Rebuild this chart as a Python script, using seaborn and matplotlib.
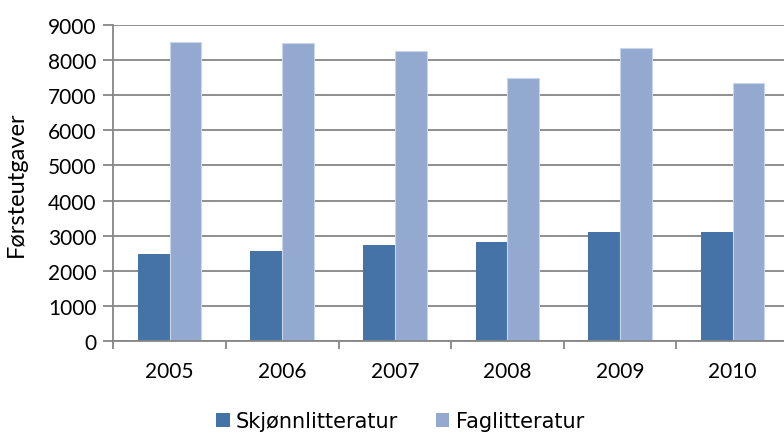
import pandas as pd
import numpy as np
import seaborn as sns
import matplotlib.pyplot as plt
from matplotlib.patches import Patch

years = ["2005", "2006", "2007", "2008", "2009", "2010"]
skjonn = [2480, 2565, 2745, 2810, 3095, 3105]
fag = [8495, 8480, 8240, 7495, 8350, 7355]
series = ["Skjønnlitteratur", "Faglitteratur"]

df = pd.DataFrame({
    "year": years * 2,
    "serie": [series[0]] * len(years) + [series[1]] * len(years),
    "value": skjonn + fag,
})

palette = {series[0]: '#4572A7', series[1]: '#94A9D0'}
grid_col = '#868686'

fig = plt.figure(figsize=(7.84, 4.35), dpi=100)
ax = fig.add_axes([113.3/784, (435-342.3)/435, 675.6/784, 316.6/435])

sns.barplot(data=df, x="year", y="value", hue="serie", order=years, hue_order=series,
            palette=palette, width=0.565, saturation=1, legend=False, ax=ax)

# light edge on the Faglitteratur bars
for p in ax.patches[len(years):]:
    p.set_edgecolor('#c9d5ea')
    p.set_linewidth(0.8)

ax.set_xlim(-0.5, 5.5)
ax.set_ylim(0, 9000)
ax.set_yticks(range(0, 9001, 1000))
ax.yaxis.grid(True, color=grid_col, linewidth=1.3)
ax.set_axisbelow(True)

ax.set_xticks(np.arange(-0.5, 6, 1), minor=True)
ax.tick_params(axis='x', which='major', length=0, pad=14)
ax.tick_params(axis='x', which='minor', length=6, width=1.3, color=grid_col)
ax.tick_params(axis='y', length=7, width=1.3, color=grid_col, pad=5)

for lab in ax.get_xticklabels() + ax.get_yticklabels():
    lab.set_fontfamily('Lato')
    lab.set_fontsize(15)

ax.set_xlabel(None)
ax.set_ylabel("Førsteutgaver", fontsize=17, family='Lato')
ax.yaxis.set_label_coords(-0.128, 0.5)

for s in ['top', 'right']:
    ax.spines[s].set_visible(False)
for s in ['left', 'bottom']:
    ax.spines[s].set_color(grid_col)
    ax.spines[s].set_linewidth(1.3)

handles = [Patch(facecolor=palette[s], edgecolor='none', label=s) for s in series]
fig.legend(handles=handles, loc='center', bbox_to_anchor=(400/784, 1-422/435), ncol=2,
           frameon=False, prop={'family': 'DejaVu Sans', 'size': 15},
           handlelength=0.65, handleheight=0.65, handletextpad=0.3, columnspacing=1.8)

fig.savefig('out.png', dpi=100)
